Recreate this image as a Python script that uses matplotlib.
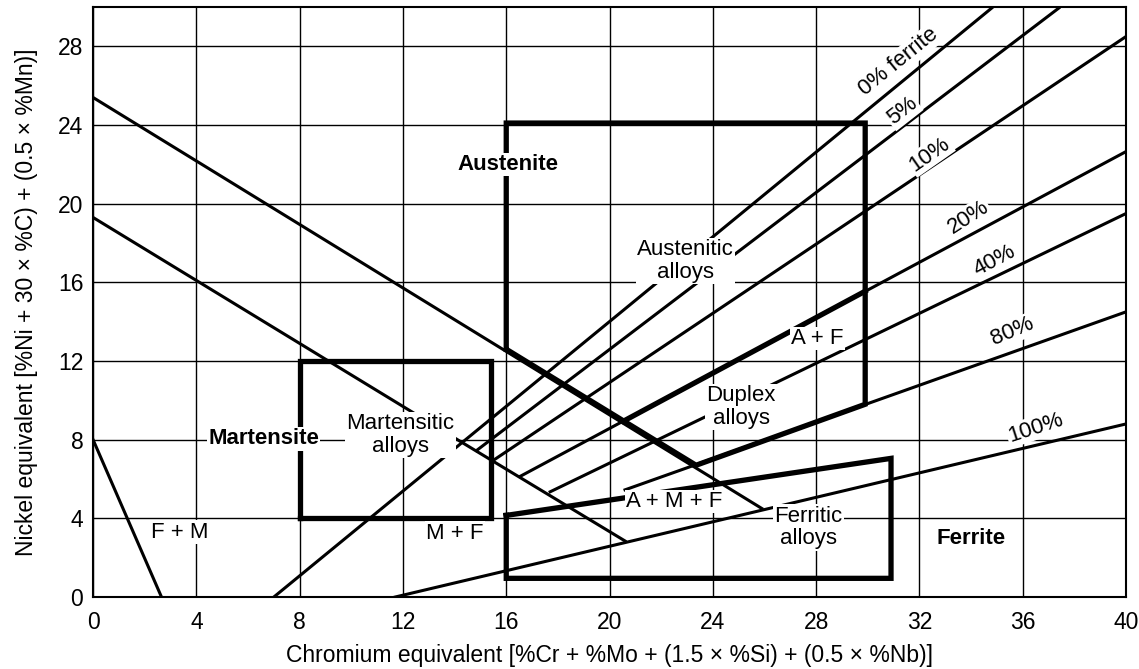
import matplotlib.pyplot as plt

plt.rcParams['font.family'] = ['Liberation Sans', 'DejaVu Sans']

# Boundary lines (Cr equivalent, Ni equivalent)
upper_x = [0, 25.9]
upper_y = [25.4, 4.5]
lower_x = [0, 14.3, 20.6]
lower_y = [19.3, 7.85, 2.85]
fm_x = [0, 2.65]
fm_y = [8, 0]

# Ferrite lines: start and end points
ferrite_names = ['0%', '5%', '10%', '20%', '40%', '80%', '100%']
ferrite_x = [[7.0, 34.8], [14.85, 37.4], [15.5, 40], [16.56, 40],
             [17.7, 40], [20.6, 40], [11.7, 40]]
ferrite_y = [[0, 29.95], [7.45, 29.95], [6.95, 28.5], [6.15, 22.65],
             [5.35, 19.5], [5.45, 14.5], [0, 8.8]]

# Alloy regions (thick outlines)
mart_box_x = [8, 15.4, 15.4, 8, 8]
mart_box_y = [4, 4, 12, 12, 4]
aust_box_x = [16, 16, 29.9, 29.9, 23.35, 16]
aust_box_y = [12.6, 24.1, 24.1, 9.8, 6.7, 12.6]
duplex_x = [20.55, 29.9]
duplex_y = [8.95, 15.55]
ferr_box_x = [16, 30.9, 30.9, 16, 16]
ferr_box_y = [4.15, 7.05, 0.95, 0.95, 4.15]

# Ferrite line labels
flabel_text = ['0% ferrite', '5%', '10%', '20%', '40%', '80%', '100%']
flabel_x = [31.2, 31.35, 32.4, 33.9, 34.9, 35.6, 36.5]
flabel_y = [27.2, 24.7, 22.5, 19.3, 17.1, 13.5, 8.6]
flabel_rot = [39, 38, 35, 33, 28, 23, 18]

# Region labels
region_text = ['Austenite', 'Martensite', 'Ferrite', 'F + M', 'M + F',
               'Austenitic\nalloys', 'Duplex\nalloys', 'A + F', 'A + M + F',
               'Ferritic\nalloys', 'Martensitic\nalloys']
region_x = [16.05, 6.6, 34.0, 3.35, 14.0, 22.95, 25.1, 28.05, 22.5, 27.7, 11.9]
region_y = [22.0, 8.05, 2.95, 3.3, 3.25, 17.1, 9.65, 13.15, 4.86, 3.54, 8.25]
region_bold = [True, True, True, False, False, False, False, False, False, False, False]

fig = plt.figure(figsize=(11.39, 6.69), dpi=100)
ax = fig.add_axes([0.0817, 0.1076, 0.9069, 0.8819])

thin = 2.2
thick = 3.8
ax.plot(upper_x, upper_y, color='black', lw=thin, zorder=2)
ax.plot(lower_x, lower_y, color='black', lw=thin, zorder=2)
ax.plot(fm_x, fm_y, color='black', lw=thin, zorder=2)
for xs, ys in zip(ferrite_x, ferrite_y):
    ax.plot(xs, ys, color='black', lw=thin, zorder=2)

for xs, ys in [(mart_box_x, mart_box_y), (aust_box_x, aust_box_y),
               (duplex_x, duplex_y), (ferr_box_x, ferr_box_y)]:
    ax.plot(xs, ys, color='black', lw=thick, zorder=3, solid_joinstyle='miter')

box = dict(facecolor='white', edgecolor='none', pad=1.0)
for t, x, y, r in zip(flabel_text, flabel_x, flabel_y, flabel_rot):
    ax.text(x, y, t, rotation=r, ha='center', va='center', fontsize=16,
            bbox=box, zorder=4, rotation_mode='anchor')

for t, x, y, b in zip(region_text, region_x, region_y, region_bold):
    ax.text(x, y, t, ha='center', va='center', fontsize=16,
            fontweight='bold' if b else 'normal', linespacing=1.1,
            bbox=box, zorder=4)

ax.set_xlim(0, 40)
ax.set_ylim(0, 30)
ax.set_xticks(range(0, 41, 4))
ax.set_yticks(range(0, 29, 4))
ax.tick_params(length=0, labelsize=16.5)
ax.tick_params(axis='x', pad=10)
ax.tick_params(axis='y', pad=7)
ax.grid(True, color='black', lw=1.0, zorder=0)
ax.set_axisbelow(True)
for s in ax.spines.values():
    s.set_linewidth(1.5)

ax.set_xlabel('Chromium equivalent [%Cr + %Mo + (1.5 × %Si) + (0.5 × %Nb)]', fontsize=16.5, labelpad=7)
ax.set_ylabel('Nickel equivalent [%Ni + 30 × %C) + (0.5 × %Mn)]', fontsize=16.5, labelpad=14)

fig.savefig('out.png', dpi=100)
